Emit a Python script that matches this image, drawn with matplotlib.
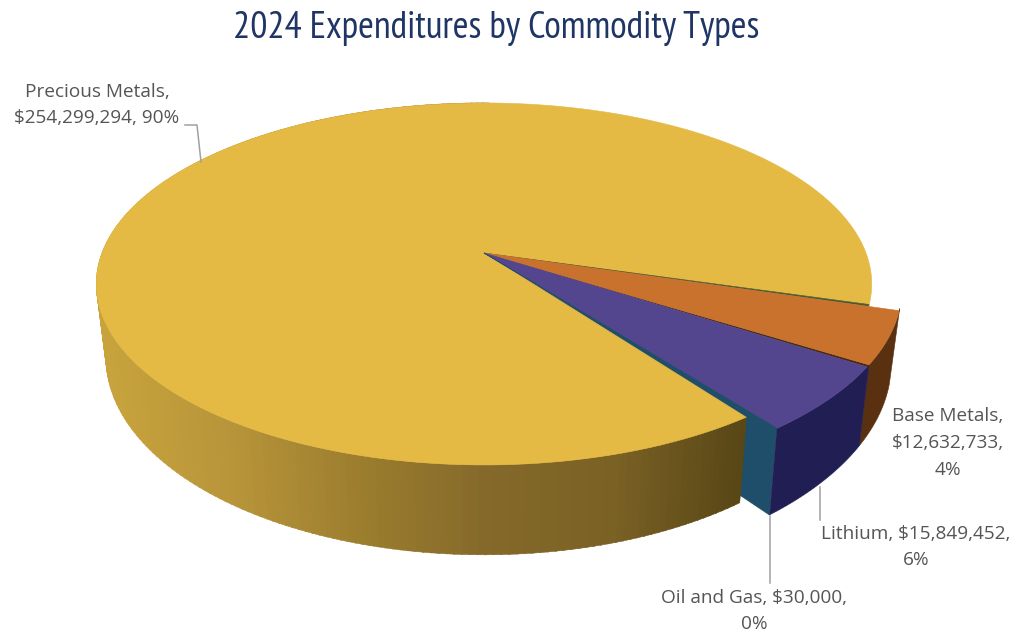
#!/usr/bin/env python3
"""Pie chart in 3D look: 2024 expenditures by commodity type, saved to out.png."""

import numpy as np
import matplotlib
matplotlib.use("Agg")
import matplotlib.pyplot as plt
from matplotlib.colors import LinearSegmentedColormap
from matplotlib.patches import Polygon

TITLE = "2024 Expenditures by Commodity Types"
CATEGORIES = ["Precious Metals", "Base Metals", "Lithium", "Oil and Gas"]
VALUES = [254299294, 12632733, 15849452, 30000]

# first slice starts here, degrees clockwise from the top of the disc
START_ANGLE = 142.5

# projection of the disc onto the pixel grid
CX, CY = 484.0, 253.0
RX, RY = 382.0, 175.7
TILT = 0.171
EXPLODE = 1.075

FACE_COLORS = ["#e4b944", "#c8722e", "#53468f", "#1f4e6a"]
WALL_COLORS = [None, "#5a3110", "#211e54", "#1f4e6a"]
SEAM_COLORS = [None, "#4d5a2c", "#4a2a10", None]
SEAM_RADIUS = [None, 1.0, EXPLODE, None]
LABEL_COLOR = "#555555"
LEADER_COLOR = "#a0a0a0"

side_cmap = LinearSegmentedColormap.from_list(
    "side", ["#c8a33c", "#b8953a", "#9c7e2e", "#85692a", "#7a6124", "#584616"]
)


def rim(angulo, raio=1.0):
    t = np.radians(90.0 - np.asarray(angulo, dtype=float))
    u, v = raio * np.cos(t), raio * np.sin(t)
    w = 1.0 + TILT * v
    return CX + RX * u / w, CY - RY * v / w


def lower(x, y):
    # the bottom plane sits further from the viewer, so it is a bit narrower
    return CX + (np.asarray(x) - CX) * 0.975, 1.09 * np.asarray(y) + 48.0


def add_face(ax, a0, a1, raio, cor, zorder):
    angs = np.linspace(a0, a1, max(int(abs(a1 - a0) * 2), 2))
    x, y = rim(angs, raio)
    pts = np.column_stack([np.r_[CX, x], np.r_[CY, y]])
    ax.add_patch(Polygon(pts, closed=True, fc=cor, ec=cor, lw=0.4, zorder=zorder))


def add_wall(ax, a0, a1, raio, cor, zorder):
    angs = np.linspace(a0, a1, max(int(abs(a1 - a0) * 2), 2))
    x, y = rim(angs, raio)
    bx, by = lower(x, y)
    pts = np.column_stack([np.r_[x, bx[::-1]], np.r_[y, by[::-1]]])
    ax.add_patch(Polygon(pts, closed=True, fc=cor, ec=cor, lw=0.4, zorder=zorder))


total = sum(VALUES)
spans = [v / total * 360.0 for v in VALUES]
inicio = START_ANGLE + np.r_[0.0, np.cumsum(spans)[:-1]]
fim = inicio + np.array(spans)

fig = plt.figure(figsize=(10.15, 6.34), dpi=100)
ax = fig.add_axes([0, 0, 1, 1])
ax.set_xlim(0, 1015)
ax.set_ylim(634, 0)
ax.axis("off")

# cut face of the exploded group, mostly hidden by the big slice
xo, yo = rim(inicio[0] + 360.0, EXPLODE)
xb, yb = lower(xo, yo)
xa, ya = lower(CX, CY)
ax.add_patch(Polygon([(CX, CY), (xo, yo), (xb, yb), (xa, ya)], closed=True,
                     fc=WALL_COLORS[3], ec=WALL_COLORS[3], lw=0.4, zorder=1))

# outer wall of the big slice, shaded from left to right
gap = 1.2
passos = np.arange(inicio[0] + gap, 360.0, 1.0)
for a in passos:
    x0, _ = rim(a)
    cor = side_cmap(np.clip((x0 - 100.0) / 650.0, 0, 1))
    add_wall(ax, a, a + 1.2, 1.0, cor, 2)

# walls of the exploded slices
for i in (1, 2):
    a0, a1 = inicio[i] % 360.0, fim[i] % 360.0
    add_wall(ax, a0, a1, EXPLODE, WALL_COLORS[i], 3 + i)

# top faces
add_face(ax, inicio[0] + gap, fim[0], 1.0, FACE_COLORS[0], 6)
for i in (1, 2):
    a0, a1 = inicio[i] % 360.0, fim[i] % 360.0
    add_face(ax, a0, a0 + 0.6, SEAM_RADIUS[i], SEAM_COLORS[i], 7)
    add_face(ax, a0 + 0.6, a1, EXPLODE, FACE_COLORS[i], 8)
add_face(ax, inicio[3] % 360.0, fim[3] % 360.0, EXPLODE, FACE_COLORS[3], 8)

# labels and leader lines
pct = [round(v / total * 100) for v in VALUES]
textos = [
    f"{CATEGORIES[0]},\n${VALUES[0]:,}, {pct[0]}%",
    f"{CATEGORIES[1]},\n${VALUES[1]:,},\n{pct[1]}%",
    f"{CATEGORIES[2]}, ${VALUES[2]:,},\n{pct[2]}%",
    f"{CATEGORIES[3]}, ${VALUES[3]:,},\n{pct[3]}%",
]
posicoes = [(97, 105), (948, 443), (916, 547), (754, 611)]
for texto, (x, y) in zip(textos, posicoes):
    ax.text(x, y, texto, ha="center", va="center", color=LABEL_COLOR,
            fontsize=13.7, family="Open Sans", linespacing=1.62, zorder=10)

ax.plot([185, 197, 201], [125, 125, 162], color=LEADER_COLOR, lw=1.1, zorder=9)
ax.plot([820, 820], [487, 520], color=LEADER_COLOR, lw=1.1, zorder=0)
ax.plot([770, 770], [516, 583], color=LEADER_COLOR, lw=1.1, zorder=0)

ax.text(496, 28, TITLE, ha="center", va="center", color="#1f3566",
        fontsize=27.4, family=["PT Sans Narrow", "Open Sans"], zorder=10)

fig.savefig("out.png", dpi=100)
